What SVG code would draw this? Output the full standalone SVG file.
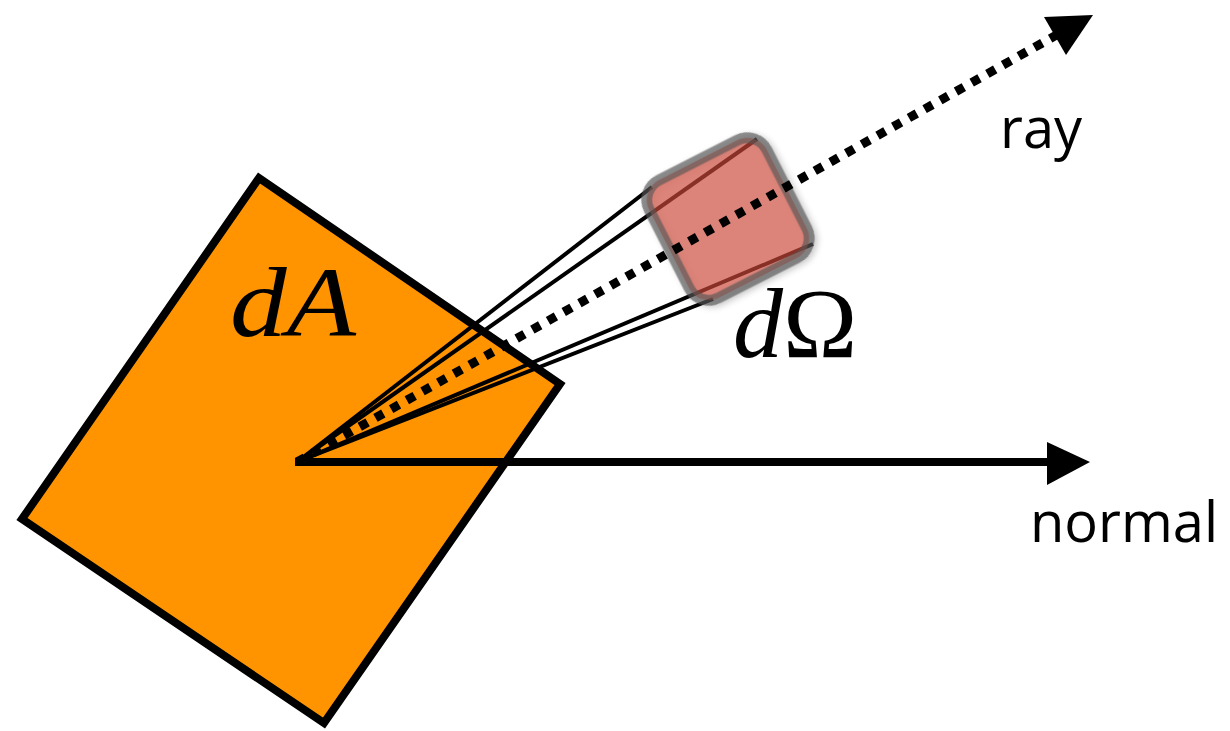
<svg xmlns="http://www.w3.org/2000/svg" width="1230" height="731" viewBox="0 0 1230 731">
<defs>
<style>
.lbl{font-family:"Open Sans","Liberation Sans",sans-serif;font-size:56px;fill:#000}
.math{font-family:"Liberation Serif","DejaVu Serif",serif;font-size:100px;fill:#000}
.fan{stroke:#000;stroke-width:4;fill:none}
</style>
<filter id="sh" x="-30%" y="-30%" width="160%" height="160%">
<feGaussianBlur in="SourceAlpha" stdDeviation="3"/>
<feOffset dx="2" dy="3"/>
<feComponentTransfer><feFuncA type="linear" slope="0.3"/></feComponentTransfer>
<feMerge><feMergeNode/><feMergeNode in="SourceGraphic"/></feMerge>
</filter>
</defs>
<rect width="1230" height="731" fill="#fff"/>
<g id="dA">
<polygon points="259,178 560,384 324,723 22,519" fill="#ff9400" stroke="#000" stroke-width="8" stroke-linejoin="miter"/>
<text class="math" x="230" y="336" font-size="112" textLength="126" lengthAdjust="spacingAndGlyphs"><tspan font-style="italic">dA</tspan></text>
</g>
<g id="connectors">
<line class="fan" x1="297" y1="462" x2="652" y2="187"/>
<line class="fan" x1="297" y1="462" x2="757" y2="139"/>
<line class="fan" x1="297" y1="462" x2="813" y2="244"/>
<line class="fan" x1="297" y1="462" x2="713" y2="299"/>
<line x1="295" y1="462" x2="1050" y2="462" stroke="#000" stroke-width="8"/>
<polygon points="1047,442 1090,462 1047,485" fill="#000"/>
</g>
<g id="dOmega">
<rect x="-66" y="-66" width="132" height="132" rx="22" ry="22" transform="translate(728,219) rotate(-27)" fill="rgb(214,76,58)" fill-opacity="0.6" stroke="#555" stroke-opacity="0.65" stroke-width="11" filter="url(#sh)"/>
<text class="math" x="733" y="357"><tspan font-style="italic">d</tspan>Ω</text>
</g>
<g id="ray">
<line x1="297" y1="462" x2="1060" y2="33" stroke="#000" stroke-width="9" stroke-dasharray="9 9"/>
<polygon points="1044,17 1093,15 1066,55" fill="#000"/>
<text class="lbl" x="1000" y="148">ray</text>
</g>
<g id="normal">
<text class="lbl" x="1030" y="542">normal</text>
</g>
</svg>
